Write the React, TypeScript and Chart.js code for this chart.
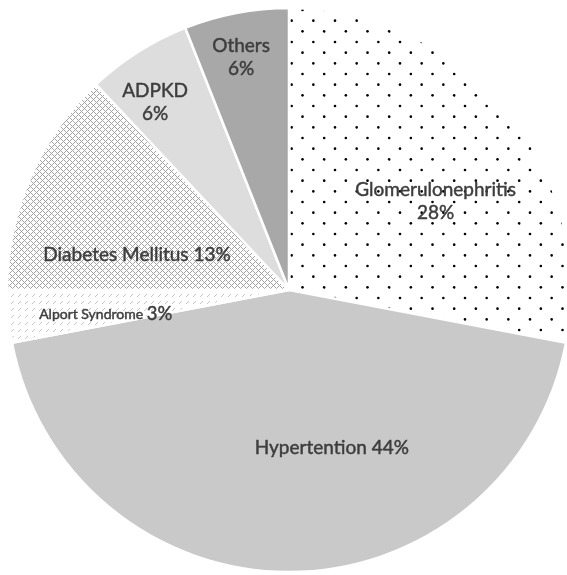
import { useEffect, useRef } from "react";
import { Chart, registerables } from "chart.js";

Chart.register(...registerables);

// Causes of chronic kidney disease and their share of cases (%)
const causes = [
  "Glomerulonephritis",
  "Hypertention",
  "Alport Syndrome",
  "Diabetes Mellitus",
  "ADPKD",
  "Others",
];
const shares = [28, 44, 3, 13, 6, 6];

// How each slice's label is laid out: "stack" puts the percentage on a
// second line, "inline" keeps it on one line, "mixed" uses a smaller name.
const labelModes = ["stack", "inline", "mixed", "inline", "stack", "stack"];

// Label anchor, as a fraction of the pie radius from its centre
const labelOffsets: [number, number][] = [
  [0.52, -0.315],
  [0.152, 0.56],
  [-0.65, 0.085],
  [-0.539, -0.124],
  [-0.475, -0.667],
  [-0.17, -0.826],
];

const FONT = "Lato, 'Open Sans', sans-serif";
const TEXT_COLOR = "#3d3d3d";

function makeTile(w: number, h: number, draw: (c: CanvasRenderingContext2D) => void) {
  const tile = document.createElement("canvas");
  tile.width = w;
  tile.height = h;
  const c = tile.getContext("2d")!;
  c.fillStyle = "#ffffff";
  c.fillRect(0, 0, w, h);
  draw(c);
  return c.createPattern(tile, "repeat") as CanvasPattern;
}

// Staggered black dots on white
function dotPattern() {
  const w = 65;
  const h = 64;
  const dx = w / 3;
  const dy = h / 6;
  return makeTile(w, h, (c) => {
    c.fillStyle = "#000000";
    for (let j = 0; j < 6; j++) {
      const y = 10 + j * dy;
      const x0 = j % 2 === 0 ? -0.83 : 10;
      for (let i = 0; i < 3; i++) {
        const x = x0 + i * dx;
        for (const ox of [-w, 0, w]) {
          for (const oy of [-h, 0, h]) {
            c.beginPath();
            c.arc(x + ox, y + oy, 1.3, 0, Math.PI * 2);
            c.fill();
          }
        }
      }
    }
  });
}

// Light grey diagonal lattice
function latticePattern() {
  return makeTile(6, 6, (c) => {
    c.fillStyle = "#a3a3a3";
    for (let x = 0; x < 6; x++) {
      for (let y = 0; y < 6; y++) {
        const a = (x + y) % 6;
        const b = (x - y + 6) % 6;
        if (a === 0 || b === 0) c.fillRect(x, y, 1, 1);
      }
    }
  });
}

// Sparse dashed upward diagonals
function dashPattern() {
  return makeTile(7, 7, (c) => {
    c.fillStyle = "#c4c4c4";
    for (let k = 0; k < 3; k++) c.fillRect(6 - k, k, 1, 1);
  });
}

function drawText(ctx: CanvasRenderingContext2D, text: string, x: number, y: number) {
  ctx.strokeText(text, x, y);
  ctx.fillText(text, x, y);
}

const labelPlugin = {
  id: "sliceLabels",
  afterDatasetsDraw(chart: Chart) {
    const ctx = chart.ctx;
    const meta = chart.getDatasetMeta(0);
    ctx.save();
    ctx.fillStyle = TEXT_COLOR;
    ctx.strokeStyle = TEXT_COLOR;
    ctx.lineWidth = 0.45;
    ctx.lineJoin = "round";
    ctx.textBaseline = "middle";
    meta.data.forEach((el: any, i: number) => {
      const { x, y, outerRadius } = el.getProps(["x", "y", "outerRadius"], true);
      const lx = x + labelOffsets[i][0] * outerRadius;
      const ly = y + labelOffsets[i][1] * outerRadius;
      const name = causes[i];
      const pct = `${shares[i]}%`;
      const mode = labelModes[i];
      if (mode === "stack") {
        ctx.font = `19px ${FONT}`;
        ctx.textAlign = "center";
        drawText(ctx, name, lx, ly - 11.5);
        drawText(ctx, pct, lx, ly + 11.5);
      } else if (mode === "inline") {
        ctx.font = `19px ${FONT}`;
        ctx.textAlign = "center";
        drawText(ctx, `${name} ${pct}`, lx, ly);
      } else {
        const small = `14px ${FONT}`;
        const big = `18.5px ${FONT}`;
        ctx.font = small;
        const w1 = ctx.measureText(`${name} `).width;
        ctx.font = big;
        const w2 = ctx.measureText(pct).width;
        const start = lx - (w1 + w2) / 2;
        ctx.textAlign = "left";
        ctx.font = small;
        drawText(ctx, `${name} `, start, ly + 1);
        ctx.font = big;
        drawText(ctx, pct, start + w1, ly);
      }
    });
    ctx.restore();
  },
};

export default function App() {
  const canvasRef = useRef<HTMLCanvasElement | null>(null);

  useEffect(() => {
    const canvas = canvasRef.current;
    if (!canvas) return;
    const fills = [
      dotPattern(),
      "#c9c9c9",
      dashPattern(),
      latticePattern(),
      "#dddddd",
      "#a8a8a8",
    ];
    const chart = new Chart(canvas, {
      type: "pie",
      data: {
        labels: causes,
        datasets: [
          {
            data: shares,
            backgroundColor: fills as any,
            borderColor: "#ffffff",
            borderWidth: 2.5,
            clip: false as any,
          },
        ],
      },
      options: {
        responsive: false,
        animation: false,
        radius: 282,
        layout: { padding: { left: 11, top: 5, right: 0, bottom: 0 } },
        plugins: {
          legend: { display: false },
          tooltip: { enabled: false },
        },
      } as any,
      plugins: [labelPlugin],
    });
    return () => chart.destroy();
  }, []);

  return (
    <div style={{ position: "absolute", left: 0, top: 0, width: 567, height: 575, overflow: "hidden", background: "#ffffff" }}>
      <canvas ref={canvasRef} width={567} height={575} />
    </div>
  );
}
